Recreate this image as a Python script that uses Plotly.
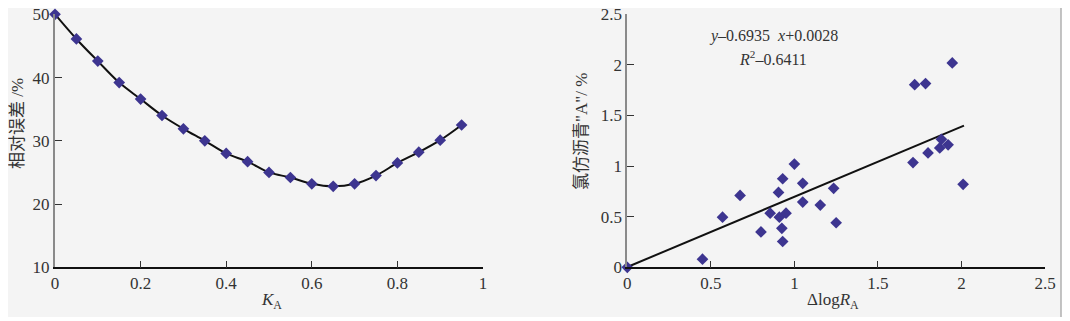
import plotly.graph_objects as go

# Left panel data
ka = [0, 0.05, 0.1, 0.15, 0.2, 0.25, 0.3, 0.35, 0.4, 0.45,
      0.5, 0.55, 0.6, 0.65, 0.7, 0.75, 0.8, 0.85, 0.9, 0.95]
rel_err = [50.0, 46.1, 42.6, 39.2, 36.6, 34.0, 31.9, 30.0, 28.0, 26.7,
           25.0, 24.2, 23.2, 22.8, 23.2, 24.5, 26.5, 28.2, 30.1, 32.5]

# Right panel data
dlogr = [0.0, 0.45, 0.57, 0.675, 0.80, 0.855, 0.905, 0.91, 0.925, 0.93, 0.93,
         0.95, 1.00, 1.05, 1.05, 1.155, 1.235, 1.25, 1.71, 2.01,
         1.72, 1.785, 1.945, 1.80, 1.88, 1.87, 1.92]
chloro_a = [0.0, 0.08, 0.495, 0.71, 0.35, 0.535, 0.74, 0.495, 0.385, 0.255, 0.875,
            0.535, 1.02, 0.83, 0.645, 0.615, 0.78, 0.44, 1.035, 0.82,
            1.805, 1.815, 2.02, 1.13, 1.265, 1.18, 1.21]
fit_slope = 0.6935
fit_icpt = 0.0028
fit_x = [0.0, 2.015]
fit_y = [fit_slope * v + fit_icpt for v in fit_x]

# page body has an 8px margin; the figure is sized so it fits the 1070x321 window
OFF = 8
W, H = 1070 - OFF, 321 - OFF
MARK = "#3d3590"
FONT = "Liberation Serif, Noto Sans CJK SC, serif"


def fx(px):
    return max(0.0, (px - OFF) / W)


def fy(py):
    return min(1.0, 1 - (py - OFF) / H)


fig = go.Figure()
fig.add_trace(go.Scatter(x=ka, y=rel_err, mode="lines+markers",
                         line=dict(color="#111111", width=2, shape="spline"),
                         marker=dict(symbol="diamond", size=9, color=MARK),
                         cliponaxis=False, xaxis="x", yaxis="y", showlegend=False))
fig.add_trace(go.Scatter(x=fit_x, y=fit_y, mode="lines",
                         line=dict(color="#111111", width=2),
                         cliponaxis=False, xaxis="x2", yaxis="y2", showlegend=False))
fig.add_trace(go.Scatter(x=dlogr, y=chloro_a, mode="markers",
                         marker=dict(symbol="diamond", size=9, color=MARK),
                         cliponaxis=False, xaxis="x2", yaxis="y2", showlegend=False))

ydom = [fy(267.3), fy(14.3)]
common_x = dict(showgrid=False, zeroline=False, showline=True, linecolor="#111111", linewidth=1.5,
                ticks="inside", ticklen=7, tickcolor="#333333", tickwidth=1.2, automargin=False,
                ticklabeloverflow="allow",
                tickfont=dict(family=FONT, size=17, color="#333333"))
common_y = dict(showgrid=False, zeroline=False, showline=True, linecolor="#8a8a8a", linewidth=2,
                ticks="inside", ticklen=7, tickcolor="#333333", tickwidth=1.2, automargin=False,
                ticklabeloverflow="allow",
                tickfont=dict(family=FONT, size=17, color="#333333"))

fig.update_layout(
    width=W, height=H, margin=dict(l=0, r=0, t=0, b=0, pad=0, autoexpand=False),
    paper_bgcolor="white", plot_bgcolor="rgba(0,0,0,0)",
    xaxis=dict(domain=[fx(55), fx(483)], range=[0, 1], dtick=0.2, anchor="y", **common_x),
    yaxis=dict(domain=ydom, range=[10, 50], dtick=10, anchor="x", **common_y),
    xaxis2=dict(domain=[fx(627.3), fx(1045)], range=[0, 2.5], dtick=0.5, anchor="y2", **common_x),
    yaxis2=dict(domain=ydom, range=[0, 2.5], dtick=0.5, anchor="x2", **common_y),
    shapes=[
        dict(type="rect", xref="paper", yref="paper", x0=fx(5), x1=fx(1061), y0=fy(317), y1=fy(4),
             fillcolor="#f4f4f4", line=dict(width=0), layer="below"),
        dict(type="line", xref="paper", yref="paper", x0=fx(1061), x1=fx(1061), y0=fy(317), y1=fy(4),
             line=dict(color="#b0b0b0", width=1.5), layer="below"),
    ],
)


def ann(text, px, py, angle=0, size=17):
    fig.add_annotation(text=text, xref="paper", yref="paper", x=fx(px), y=fy(py),
                       xanchor="center", yanchor="middle", showarrow=False, textangle=angle,
                       font=dict(family=FONT, size=size, color="#333333"))


ann("相对误差 /%", 18, 124, -90)
ann("<i>K</i><sub>A</sub>", 271, 301)
ann("氯仿沥青\"A\"/ %", 581, 132, -90)
ann("Δlog<i>R</i><sub>A</sub>", 833, 301)
ann("<i>y</i>–0.6935\u00a0\u00a0<i>x</i>+0.0028", 773, 36, size=16)
ann("<i>R</i><sup>2</sup>–0.6411", 773, 58, size=16)

fig.write_html("out.html")
